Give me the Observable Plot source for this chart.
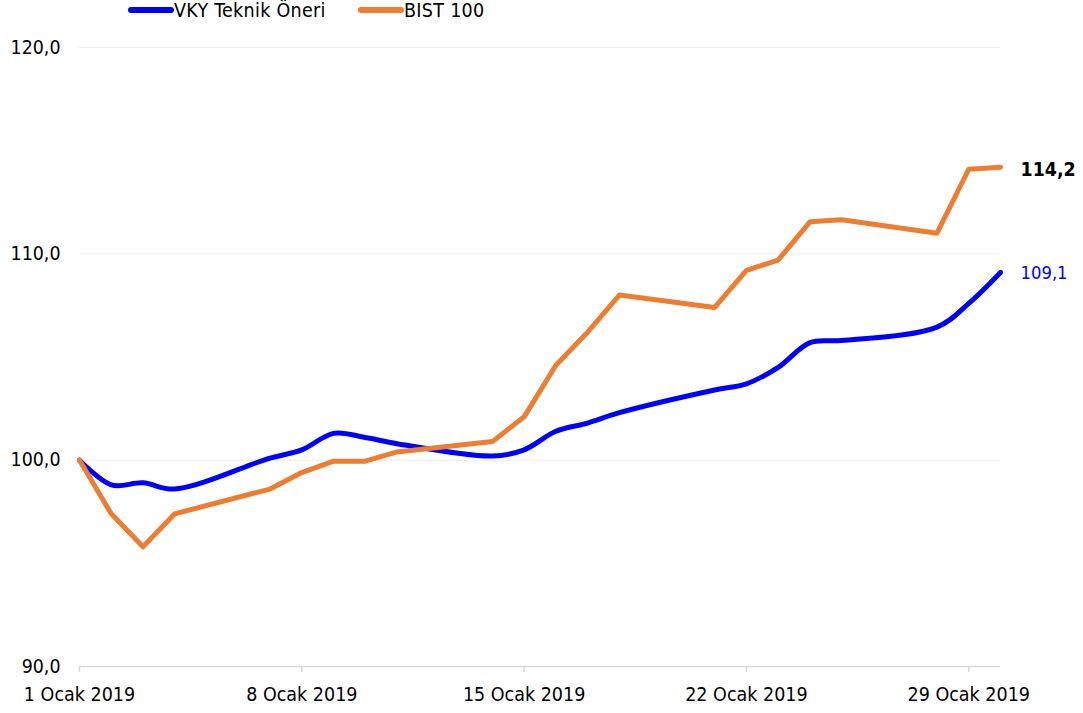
<!DOCTYPE html>
<html>
<head>
<meta charset="utf-8">
<script src="https://cdn.jsdelivr.net/npm/d3@7"></script>
<script src="https://cdn.jsdelivr.net/npm/@observablehq/plot@0.6"></script>
<style>
  body { margin: 0; background: #fff; font-family: "DejaVu Sans Condensed", "DejaVu Sans", sans-serif; }
  #wrap { position: relative; width: 1083px; height: 713px; }
  #legend { position: absolute; top: 0; left: 0; width: 1083px; height: 24px; font-size: 19.5px; color: #000; line-height: 20px; }
  .sw { position: absolute; top: 7px; height: 6px; width: 46px; border-radius: 3px; }
  .lb { position: absolute; top: 1.2px; letter-spacing: 0.3px; }
</style>
</head>
<body>
<div id="wrap">
  <div id="legend">
    <div class="sw" style="left:128px;background:#0000FF"></div>
    <div class="lb" style="left:174px">VKY Teknik Öneri</div>
    <div class="sw" style="left:358px;background:#ED7D31"></div>
    <div class="lb" style="left:404px">BIST 100</div>
  </div>
  <div id="chart"></div>
</div>
<script>
const dates = ["2019-01-01","2019-01-02","2019-01-03","2019-01-04","2019-01-07","2019-01-08","2019-01-09","2019-01-10","2019-01-11","2019-01-14","2019-01-15","2019-01-16","2019-01-17","2019-01-18","2019-01-21","2019-01-22","2019-01-23","2019-01-24","2019-01-25","2019-01-28","2019-01-29","2019-01-30"];
const vky  = [100.0, 98.8, 98.9, 98.6, 100.1, 100.5, 101.3, 101.1, 100.8, 100.2, 100.5, 101.4, 101.8, 102.3, 103.4, 103.7, 104.5, 105.7, 105.8, 106.45, 107.6, 109.1];
const bist = [100.0, 97.4, 95.8, 97.4, 98.6, 99.4, 99.95, 99.95, 100.4, 100.9, 102.1, 104.6, 106.2, 108.0, 107.4, 109.2, 109.7, 111.55, 111.65, 111.0, 114.1, 114.2];
const seriesNames = ["VKY Teknik Öneri", "BIST 100"];
const xTicks = ["2019-01-01","2019-01-08","2019-01-15","2019-01-22","2019-01-29"];
const xTickLabels = ["1 Ocak 2019","8 Ocak 2019","15 Ocak 2019","22 Ocak 2019","29 Ocak 2019"];
const yTicks = [90, 100, 110, 120];
const endLabels = ["109,1", "114,2"];

const parse = s => new Date(s + "T00:00:00Z");
const vkyData = dates.map((d, i) => ({date: parse(d), value: vky[i], series: seriesNames[0]}));
const bistData = dates.map((d, i) => ({date: parse(d), value: bist[i], series: seriesNames[1]}));
const tickDates = xTicks.map(parse);
const labelMap = new Map(tickDates.map((d, i) => [+d, xTickLabels[i]]));
const fmt = v => v.toFixed(1).replace(".", ",");

const chart = Plot.plot({
  width: 1083,
  height: 713,
  marginLeft: 79,
  marginRight: 83,
  marginTop: 47,
  marginBottom: 47,
  style: {fontFamily: "'DejaVu Sans Condensed', 'DejaVu Sans', sans-serif", fontSize: "18px", color: "#000", background: "transparent"},
  x: {type: "utc", domain: [parse("2019-01-01"), parse("2019-01-30")]},
  y: {domain: [90, 120]},
  marks: [
    Plot.ruleY(yTicks.slice(1), {stroke: "#ececec", strokeWidth: 1}),
    Plot.ruleY([90], {stroke: "#d9d9d9", strokeWidth: 1.5}),
    Plot.axisX({ticks: tickDates, tickFormat: d => labelMap.get(+d), tickSize: 6, stroke: "#d9d9d9", strokeWidth: 1.5, tickPadding: 15, fontSize: 19.5, label: null, color: "#000"}),
    Plot.axisY({ticks: yTicks, tickFormat: fmt, tickSize: 0, tickPadding: 19, fontSize: 19.4, label: null}),
    Plot.line(vkyData, {x: "date", y: "value", stroke: "#0000FF", strokeWidth: 5, curve: "catmull-rom"}),
    Plot.line(bistData, {x: "date", y: "value", stroke: "#ED7D31", strokeWidth: 5, strokeLinejoin: "round"}),
    Plot.text([vkyData[vkyData.length - 1]], {x: "date", y: "value", text: () => endLabels[0], dx: 20, dy: 1, textAnchor: "start", fill: "#0000FF", fontSize: 18.3}),
    Plot.text([bistData[bistData.length - 1]], {x: "date", y: "value", text: () => endLabels[1], dx: 20, dy: 3, textAnchor: "start", fill: "#000", fontSize: 19.4, fontWeight: "bold"})
  ]
});
document.getElementById("chart").appendChild(chart);
</script>
</body>
</html>
